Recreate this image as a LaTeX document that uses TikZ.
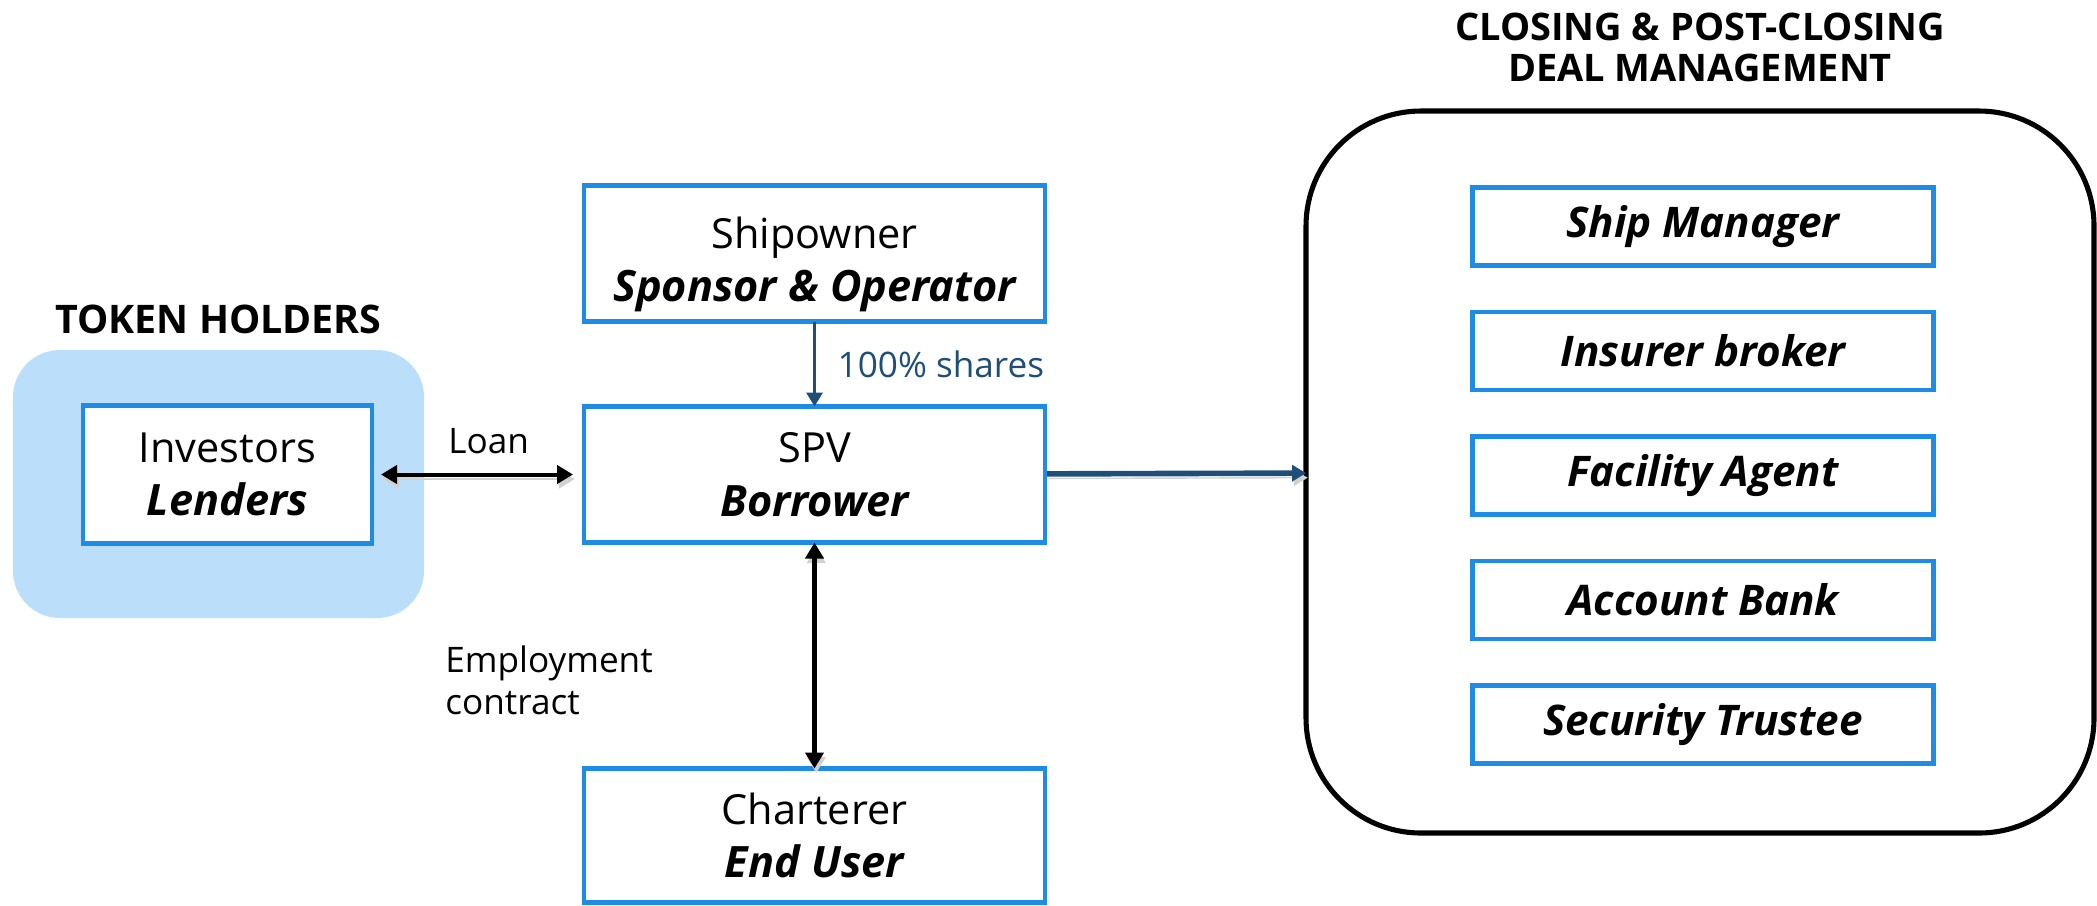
\documentclass[tikz,border=0pt]{standalone}
\usepackage{fontspec}
\setmainfont{Open Sans}
\usetikzlibrary{positioning,arrows.meta}

\definecolor{boxblue}{RGB}{30,139,229}
\definecolor{holderblue}{RGB}{187,222,251}
\definecolor{linkblue}{RGB}{31,78,121}

% bold italic role line inside a box
\newcommand{\role}[1]{{\fontsize{12.3}{15}\selectfont\bfseries\itshape #1}}

\tikzset{
  party/.style={draw=boxblue, line width=1.2pt, fill=white, align=center,
    minimum width=4.61cm, minimum height=1.36cm, inner sep=0pt, outer sep=0pt,
    font=\fontsize{11.8}{15.2}\selectfont},
  agent/.style={party, minimum height=0.78cm,
    font=\fontsize{12}{14}\selectfont\bfseries\itshape},
  heading/.style={font=\fontsize{11.2}{11.8}\selectfont\bfseries, align=center},
  lbl/.style={font=\fontsize{10}{12}\selectfont},
  soft/.style={preaction={draw=black!18, transform canvas={xshift=0.5pt, yshift=-1.3pt}}},
  deal/.style={soft, line width=1.15pt,
    {Triangle[length=1.6mm,width=1.8mm]}-{Triangle[length=1.6mm,width=1.8mm]}},
  own/.style={draw=linkblue, line width=0.85pt, -{Triangle[length=1.4mm,width=1.6mm]}}
}

\begin{document}
\begin{tikzpicture}
  \useasboundingbox (0,0) rectangle (20.97,-9.05);

  % token holders
  \node[fill=holderblue, rounded corners=0.47cm, minimum width=4.11cm,
    minimum height=2.68cm, outer sep=0pt] (holders) at (2.185,-4.84) {};
  \node[heading, above=0.04cm of holders] (holdtitle) {TOKEN HOLDERS};

  % deal parties
  \node[party] (spv) at (8.145,-4.745) {SPV\\\role{Borrower}};
  \node[party, above=0.85cm of spv] (owner) {\rule{0pt}{1.3em}Shipowner\\\role{Sponsor \& Operator}};
  \node[party, below=2.26cm of spv, minimum height=1.34cm] (charterer) {Charterer\\\role{End User}};
  \node[party, left=2.12cm of spv, minimum width=2.89cm, minimum height=1.38cm] (investors) {Investors\\\role{Lenders}};

  % closing & post-closing
  \node[draw, line width=1.45pt, rounded corners=1.15cm, minimum width=7.88cm,
    minimum height=7.22cm, outer sep=0pt] (closing) at (17.0,-4.72) {};
  \node[heading, font=\fontsize{10.8}{11.6}\selectfont\bfseries, above=0.17cm of closing] (closetitle) {CLOSING \& POST-CLOSING\\DEAL MANAGEMENT};
  \node[agent] (manager) at (17.03,-2.265) {Ship Manager};
  \node[agent, below=0.465cm of manager] (insurer) {Insurer broker};
  \node[agent, below=0.465cm of insurer] (facility) {Facility Agent};
  \node[agent, below=0.465cm of facility] (account) {Account Bank};
  \node[agent, below=0.465cm of account] (trustee) {Security Trustee};

  % links
  \draw[deal, shorten <=0.09cm, shorten >=0.11cm] (investors) -- (spv)
    node[lbl, pos=0.55, above=2pt] (loan) {Loan};
  \draw[own] (owner) -- (spv)
    node[lbl, text=linkblue, midway, right=0.1cm] (shares) {100\% shares};
  \draw[deal] (spv) -- (charterer);
  \node[lbl, align=left, anchor=west] (employment) at (4.33,-6.80) {Employment\\contract};
  \draw[own, soft, line width=1.6pt, shorten <=0.02cm] (spv) -- (closing);
\end{tikzpicture}
\end{document}
